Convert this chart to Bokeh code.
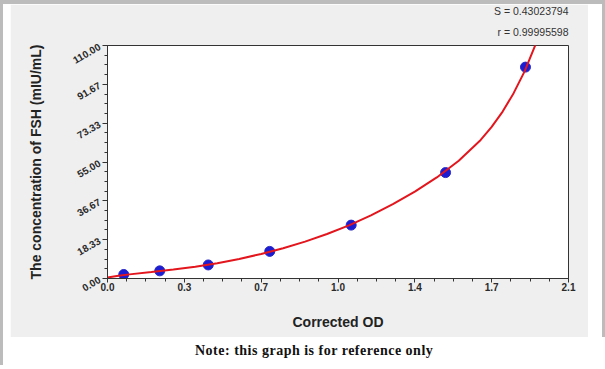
from math import pi
from bokeh.plotting import figure
from bokeh.models import FixedTicker, Div, Range1d, Title, Spacer
from bokeh.layouts import column, row
from bokeh.embed import file_html
from bokeh.resources import INLINE

# Standard points
od = [0.074, 0.238, 0.459, 0.739, 1.110, 1.540, 1.904]
conc = [1.9, 3.6, 6.4, 12.8, 25.2, 50.0, 99.8]

# Fitted curve
curve_od = [0.00, 0.05, 0.10, 0.20, 0.30, 0.40, 0.50, 0.60, 0.70, 0.80, 0.90,
            1.00, 1.10, 1.20, 1.30, 1.40, 1.50, 1.60, 1.70, 1.75, 1.80, 1.85,
            1.90, 1.95, 1.98]
curve_conc = [0.5, 1.3, 1.95, 3.1, 4.3, 5.6, 7.2, 9.2, 11.6, 14.3, 17.4,
              21.0, 25.1, 29.8, 35.1, 41.0, 47.7, 55.6, 65.4, 71.6, 78.8, 87.5,
              97.8, 110.5, 119.0]

x_ticks = [0.0, 0.35, 0.7, 1.05, 1.4, 1.75, 2.1]
x_tick_labels = ["0.0", "0.3", "0.7", "1.0", "1.4", "1.7", "2.1"]
y_ticks = [0.0, 18.333333, 36.666667, 55.0, 73.333333, 91.666667, 110.0]
y_tick_labels = ["0.00", "18.33", "36.67", "55.00", "73.33", "91.67", "110.00"]
x_minor = [i * 0.0875 for i in range(25)]
y_minor = [i * 110.0 / 24 for i in range(25)]

stats = ["S = 0.43023794", "r = 0.99995598"]
note = "Note: this graph is for reference only"

FONT = "Liberation Sans"
PANEL = "#efefef"
EDGE = "#bcbcbc"

p = figure(width=578, height=333, x_range=Range1d(0, 2.1), y_range=Range1d(0, 110),
           output_backend="svg", toolbar_location=None,
           min_border_left=97, min_border_right=20, min_border_top=41, min_border_bottom=59,
           background_fill_color="white", border_fill_color=PANEL)
p.grid.visible = False
p.outline_line_color = "#333333"

p.scatter(od, conc, size=10, color="#1c1cd2", line_color="#2a2ac8")
p.line(curve_od, curve_conc, line_color="#e3161e", line_width=2)

xa = p.xaxis[0]
xa.ticker = FixedTicker(ticks=x_ticks, minor_ticks=x_minor)
xa.major_label_overrides = dict(zip(x_ticks, x_tick_labels))
xa.axis_label = "Corrected OD"
xa.major_tick_out = 4
xa.major_tick_in = 0
xa.minor_tick_out = 3
xa.minor_tick_in = 0
xa.major_label_standoff = 0
xa.axis_label_standoff = 20

ya = p.yaxis[0]
ya.ticker = FixedTicker(ticks=y_ticks, minor_ticks=y_minor)
ya.major_label_overrides = dict(zip(y_ticks, y_tick_labels))
ya.axis_label = "The concentration of FSH (mIU/mL)"
ya.major_tick_out = 5
ya.major_tick_in = 0
ya.minor_tick_out = 3
ya.minor_tick_in = 0
ya.major_label_standoff = 3
ya.major_label_orientation = pi / 6
ya.axis_label_standoff = 22

for ax in (xa, ya):
    ax.axis_line_color = "#333333"
    ax.major_tick_line_color = "#333333"
    ax.minor_tick_line_color = "#333333"
    ax.major_label_text_font = FONT
    ax.major_label_text_font_size = "10px"
    ax.major_label_text_font_style = "bold"
    ax.major_label_text_color = "#2a2a2a"
    ax.axis_label_text_font = FONT
    ax.axis_label_text_font_size = "14px"
    ax.axis_label_text_font_style = "bold"
    ax.axis_label_text_color = "#222222"

p.add_layout(Title(text=stats[1], align="right", vertical_align="top", text_font=FONT,
                   text_font_size="10.5px", text_font_style="normal", text_color="#333333",
                   standoff=12), "above")
p.add_layout(Title(text=stats[0], align="right", vertical_align="top", text_font=FONT,
                   text_font_size="10.5px", text_font_style="normal", text_color="#333333",
                   standoff=1), "above")

note_div = Div(text=('<div style="padding-left:187px; font-family:\'Liberation Serif\', serif; '
                     'font-weight:bold; font-size:14px; letter-spacing:0.5px; color:#111; '
                     'line-height:18px; white-space:nowrap;">' + note + '</div>'),
               width=599, height=28)


def gray(w, h):
    return Spacer(width=w, height=h, styles={"background-color": EDGE})


layout = column(
    gray(605, 4),
    row(gray(3, 333), Spacer(width=7, height=333), p,
        Spacer(width=14, height=333), gray(3, 333), spacing=0),
    row(gray(3, 28), note_div, gray(3, 28), spacing=0),
    gray(605, 4),
    spacing=0,
)
open("out.html", "w").write(file_html(layout, INLINE))
